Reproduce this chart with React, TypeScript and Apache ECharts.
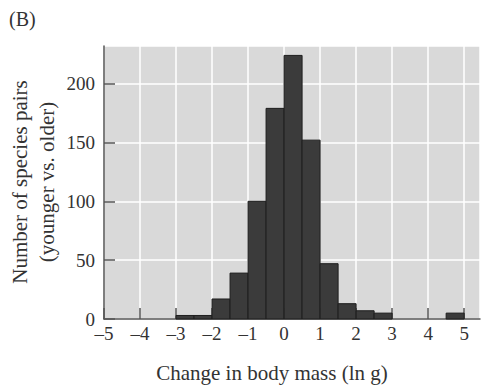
import React, { useEffect, useRef } from "react";
import * as echarts from "echarts";

const binStarts = [-3, -2.5, -2, -1.5, -1, -0.5, 0, 0.5, 1, 1.5, 2, 2.5, 4.5];
const binWidth = 0.5;
const counts = [3, 3, 17, 39, 100, 179, 224, 152, 47, 13, 7, 5, 5];
const yTitleLines = ["Number of species pairs", "(younger vs. older)"];
const xTitle = "Change in body mass (ln g)";
const panelLabel = "(B)";

const FONT = "'Liberation Serif', 'DejaVu Serif', serif";
const TXT = "#333333";

export default function App() {
  const ref = useRef<HTMLDivElement>(null);
  useEffect(() => {
    document.body.style.margin = "0";
    const chart = echarts.init(ref.current!, undefined, { renderer: "svg" });
    const data = binStarts.map((s, i) => [s, s + binWidth, counts[i]]);
    chart.setOption({
      animation: false,
      textStyle: { fontFamily: FONT },
      grid: {
        left: 104,
        right: 1,
        top: 46,
        bottom: 71,
        show: true,
        backgroundColor: "#d9d9d9",
        borderWidth: 0,
      },
      xAxis: {
        type: "value",
        min: -5,
        max: 5.44,
        interval: 1,
        axisLine: { show: true, onZero: false, lineStyle: { color: "#555", width: 1.5 } },
        axisTick: { show: true, inside: true, length: 11, lineStyle: { color: "#555", width: 1.5 } },
        splitLine: { show: true, lineStyle: { color: "#ffffff", width: 1.5 } },
        axisLabel: {
          showMaxLabel: false,
          color: TXT,
          fontFamily: FONT,
          fontSize: 19,
          margin: 5,
          formatter: (v: number) => (v < 0 ? "\u2013" + Math.abs(v) : String(v)),
        },
      },
      yAxis: {
        type: "value",
        min: 0,
        max: 232,
        interval: 50,
        axisLine: { show: true, onZero: false, lineStyle: { color: "#555", width: 1.5 } },
        axisTick: { show: true, inside: true, length: 11, lineStyle: { color: "#555", width: 1.5 } },
        splitLine: { show: true, lineStyle: { color: "#ffffff", width: 1.5 } },
        axisLabel: {
          showMaxLabel: false,
          color: TXT,
          fontFamily: FONT,
          fontSize: 19,
          margin: 9,
        },
      },
      series: [
        {
          type: "custom",
          data,
          encode: { x: [0, 1], y: 2 },
          renderItem: (params: any, api: any) => {
            const p0 = api.coord([api.value(0), 0]);
            const p1 = api.coord([api.value(1), api.value(2)]);
            return {
              type: "rect",
              shape: { x: p0[0], y: p1[1], width: p1[0] - p0[0], height: p0[1] - p1[1] },
              style: { fill: "#3b3b3b", stroke: "#1e1e1e", lineWidth: 1 },
            };
          },
        },
      ],
      graphic: [
        {
          type: "text",
          left: 9,
          top: 9,
          style: { text: panelLabel, fontFamily: FONT, fontSize: 20, fill: TXT },
        },
        {
          type: "text",
          x: 272,
          y: 373,
          style: {
            text: xTitle,
            fontFamily: FONT,
            fontSize: 21,
            fill: TXT,
            align: "center",
            verticalAlign: "middle",
          },
        },
        ...yTitleLines.map((t, i) => ({
          type: "text",
          x: 20 + i * 27,
          y: 182,
          rotation: Math.PI / 2,
          style: {
            text: t,
            fontFamily: FONT,
            fontSize: 21,
            fill: TXT,
            align: "center",
            verticalAlign: "middle",
          },
        })),
      ],
    });
    return () => chart.dispose();
  }, []);
  return <div ref={ref} style={{ width: 481, height: 390, position: "absolute", left: 0, top: 0 }} />;
}
